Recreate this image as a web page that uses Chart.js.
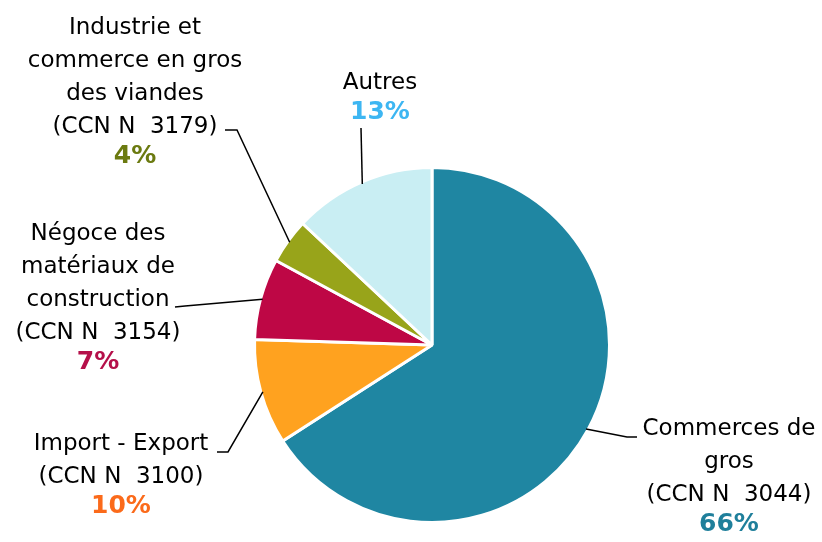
<!DOCTYPE html>
<html>
<head>
<meta charset="utf-8">
<script src="https://cdn.jsdelivr.net/npm/chart.js@4.4.0/dist/chart.umd.min.js"></script>
<style>
  html, body { margin: 0; padding: 0; background: #fff; }
  #wrap { width: 822px; height: 542px; }
</style>
</head>
<body>
<div id="wrap"><canvas id="chart"></canvas></div>
<script>
// data
const categories = [
  ['Commerces de', 'gros', '(CCN N  3044)'],
  ['Import - Export', '(CCN N  3100)'],
  ['Négoce des', 'matériaux de', 'construction', '(CCN N  3154)'],
  ['Industrie et', 'commerce en gros', 'des viandes', '(CCN N  3179)'],
  ['Autres']
];
const shares = [65.9, 9.6, 7.4, 4.1, 13.0];
const percentLabels = ['66%', '10%', '7%', '4%', '13%'];

const sliceColors = ['#1f86a2', '#ffa21f', '#be0745', '#98a41a', '#c9eef3'];
const percentColors = ['#1f7f9b', '#fb6a1a', '#b5104a', '#6b7a10', '#3db6f2'];

// label placement: text block centre, first line y, leader elbow & end
const labelLayout = [
  { x: 729, y: 429, elbow: [627, 437], end: [637, 437] },
  { x: 121, y: 444, elbow: [228, 452], end: [217, 452] },
  { x: 98,  y: 234, elbow: [185, 306], end: [175, 307] },
  { x: 135, y: 28,  elbow: [237, 130], end: [225, 130] },
  { x: 380, y: 83,  elbow: [361, 128], end: [361, 128] }
];

const FONT = '"DejaVu Sans", sans-serif';

const calloutPlugin = {
  id: 'callouts',
  afterDraw(chart) {
    const ctx = chart.ctx;
    const arcs = chart.getDatasetMeta(0).data;
    ctx.save();
    arcs.forEach((arc, i) => {
      const lay = labelLayout[i];
      const mid = (arc.startAngle + arc.endAngle) / 2;
      const r = arc.outerRadius - 2;
      const px = arc.x + Math.cos(mid) * r;
      const py = arc.y + Math.sin(mid) * r;

      ctx.strokeStyle = '#000';
      ctx.lineWidth = 1.5;
      ctx.beginPath();
      ctx.moveTo(px, py);
      ctx.lineTo(lay.elbow[0], lay.elbow[1]);
      ctx.lineTo(lay.end[0], lay.end[1]);
      ctx.stroke();

      ctx.textAlign = 'center';
      ctx.textBaseline = 'middle';
      let y = lay.y;
      ctx.fillStyle = '#000';
      ctx.font = '23px ' + FONT;
      categories[i].forEach(line => {
        ctx.fillText(line, lay.x, y);
        y += 33;
      });
      ctx.fillStyle = percentColors[i];
      ctx.font = 'bold 25px ' + FONT;
      ctx.fillText(percentLabels[i], lay.x, y - 4);
    });
    ctx.restore();
  }
};

new Chart(document.getElementById('chart'), {
  type: 'pie',
  data: {
    labels: categories.map(c => c.join(' ')),
    datasets: [{
      data: shares,
      backgroundColor: sliceColors,
      borderColor: '#fff',
      borderWidth: 3
    }]
  },
  options: {
    responsive: true,
    maintainAspectRatio: false,
    animation: false,
    layout: { padding: { left: 253, right: 211, top: 166, bottom: 18 } },
    plugins: {
      legend: { display: false },
      tooltip: { enabled: false }
    }
  },
  plugins: [calloutPlugin]
});
</script>
</body>
</html>
